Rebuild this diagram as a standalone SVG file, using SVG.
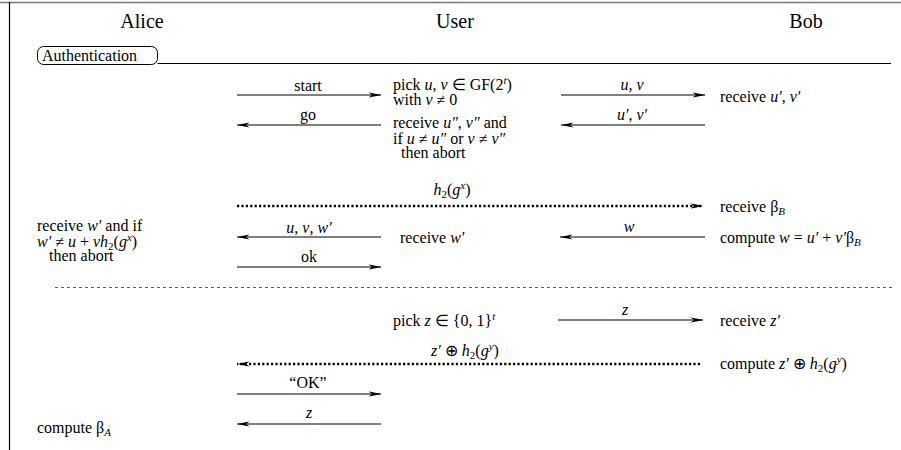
<svg xmlns="http://www.w3.org/2000/svg" width="901" height="450" viewBox="0 0 901 450">
<style>
text{font-family:"Liberation Serif","Times New Roman",serif;font-size:16px;fill:#000}
.hd{font-size:20px;text-anchor:middle}
.i{font-style:italic}
.s{font-size:11px}
.c{text-anchor:middle}
.ln{stroke:#000;stroke-width:1.1;fill:none}
.dot{stroke:#000;stroke-width:2.6;stroke-dasharray:2.2 2.2;fill:none}
.sep{stroke:#333;stroke-width:0.8;stroke-dasharray:3 3;fill:none}
</style>
<defs>
<marker id="ah" viewBox="0 0 13 8" refX="12.5" refY="4" markerWidth="13" markerHeight="8" markerUnits="userSpaceOnUse" orient="auto">
<path d="M0,1.4 L13,4 L0,6.6 L3.5,4 Z" fill="#000"/>
</marker>
</defs>
<rect width="901" height="450" fill="#fff"/>
<g id="frame">
<line x1="0" y1="2.5" x2="901" y2="2.5" stroke="#777" stroke-width="1.5"/>
<line x1="9.5" y1="2" x2="9.5" y2="450" stroke="#000" stroke-width="1.2"/>
</g>
<g id="alice"><text class="hd" x="142" y="28">Alice</text></g>
<g id="user"><text class="hd" x="455" y="28">User</text></g>
<g id="bob"><text class="hd" x="806" y="28">Bob</text></g>
<g id="auth">
<rect x="37.5" y="46.5" width="120" height="18" rx="6" fill="none" stroke="#000" stroke-width="1"/>
<line x1="157.5" y1="63.5" x2="891" y2="63.5" stroke="#000" stroke-width="1"/>
<text x="42" y="61">Authentication</text>
</g>
<g id="user-pick">
<text x="393" y="90">pick <tspan class="i">u</tspan>, <tspan class="i">v</tspan> ∈ GF(2<tspan class="s i" dy="-6">t</tspan><tspan dy="6">)</tspan></text>
<text x="393" y="105">with <tspan class="i">v</tspan> ≠ 0</text>
</g>
<g id="user-check">
<text x="393" y="128">receive <tspan class="i">u″</tspan>, <tspan class="i">v″</tspan> and</text>
<text x="393" y="144">if <tspan class="i">u</tspan> ≠ <tspan class="i">u″</tspan> or <tspan class="i">v</tspan> ≠ <tspan class="i">v″</tspan></text>
<text x="401" y="158">then abort</text>
</g>
<g id="bob-recv-uv"><text x="720" y="102">receive <tspan class="i">u′</tspan>, <tspan class="i">v′</tspan></text></g>
<g id="bob-recv-beta"><text x="720" y="212">receive β<tspan class="s i" dy="3">B</tspan></text></g>
<g id="alice-check">
<text x="37" y="231">receive <tspan class="i">w′</tspan> and if</text>
<text x="37" y="247"><tspan class="i">w′</tspan> ≠ <tspan class="i">u</tspan> + <tspan class="i">vh</tspan><tspan class="s" dy="3">2</tspan><tspan dy="-3">(</tspan><tspan class="i">g</tspan><tspan class="s i" dy="-6">x</tspan><tspan dy="6">)</tspan></text>
<text x="49" y="261">then abort</text>
</g>
<g id="user-recv-w"><text x="400" y="243">receive <tspan class="i">w′</tspan></text></g>
<g id="bob-compute-w"><text x="720" y="243">compute <tspan class="i">w</tspan> = <tspan class="i">u′</tspan> + <tspan class="i">v′</tspan>β<tspan class="s i" dy="3">B</tspan></text></g>
<g id="user-pick-z"><text x="393" y="326">pick <tspan class="i">z</tspan> ∈ {0, 1}<tspan class="s i" dy="-6">t</tspan></text></g>
<g id="bob-recv-z"><text x="720" y="326">receive <tspan class="i">z′</tspan></text></g>
<g id="bob-compute-z"><text x="720" y="369">compute <tspan class="i">z′</tspan> ⊕ <tspan class="i">h</tspan><tspan class="s" dy="3">2</tspan><tspan dy="-3">(</tspan><tspan class="i">g</tspan><tspan class="s i" dy="-6">y</tspan><tspan dy="6">)</tspan></text></g>
<g id="alice-compute-beta"><text x="37" y="433">compute β<tspan class="s i" dy="3">A</tspan></text></g>
<g id="connectors">
<line class="ln" x1="237" y1="95" x2="381" y2="95" marker-end="url(#ah)"/>
<text class="c" x="308" y="91">start</text>
<line class="ln" x1="381" y1="125" x2="237" y2="125" marker-end="url(#ah)"/>
<text class="c" x="308" y="120">go</text>
<line class="ln" x1="561" y1="95" x2="705" y2="95" marker-end="url(#ah)"/>
<text class="c i" x="632" y="90">u, v</text>
<line class="ln" x1="705" y1="125" x2="561" y2="125" marker-end="url(#ah)"/>
<text class="c" x="632" y="120"><tspan class="i">u′</tspan>, <tspan class="i">v′</tspan></text>
<line class="dot" x1="237" y1="206" x2="703" y2="206" marker-end="url(#ah)"/>
<text class="c" x="452" y="195"><tspan class="i">h</tspan><tspan class="s" dy="3">2</tspan><tspan dy="-3">(</tspan><tspan class="i">g</tspan><tspan class="s i" dy="-6">x</tspan><tspan dy="6">)</tspan></text>
<line class="ln" x1="381" y1="237" x2="237" y2="237" marker-end="url(#ah)"/>
<text class="c" x="309" y="233"><tspan class="i">u</tspan>, <tspan class="i">v</tspan>, <tspan class="i">w′</tspan></text>
<line class="ln" x1="705" y1="237" x2="560" y2="237" marker-end="url(#ah)"/>
<text class="c i" x="629" y="232">w</text>
<line class="ln" x1="237" y1="267" x2="381" y2="267" marker-end="url(#ah)"/>
<text class="c" x="309" y="262">ok</text>
<line class="sep" x1="55" y1="287.5" x2="892" y2="287.5"/>
<line class="ln" x1="558" y1="320" x2="703" y2="320" marker-end="url(#ah)"/>
<text class="c i" x="625" y="315">z</text>
<line class="dot" x1="700" y1="364" x2="237" y2="364" marker-end="url(#ah)"/>
<text class="c" x="465" y="356"><tspan class="i">z′</tspan> ⊕ <tspan class="i">h</tspan><tspan class="s" dy="3">2</tspan><tspan dy="-3">(</tspan><tspan class="i">g</tspan><tspan class="s i" dy="-6">y</tspan><tspan dy="6">)</tspan></text>
<line class="ln" x1="237" y1="394" x2="381" y2="394" marker-end="url(#ah)"/>
<text class="c" x="308" y="388">“OK”</text>
<line class="ln" x1="381" y1="424" x2="237" y2="424" marker-end="url(#ah)"/>
<text class="c i" x="309" y="418">z</text>
</g>
</svg>
